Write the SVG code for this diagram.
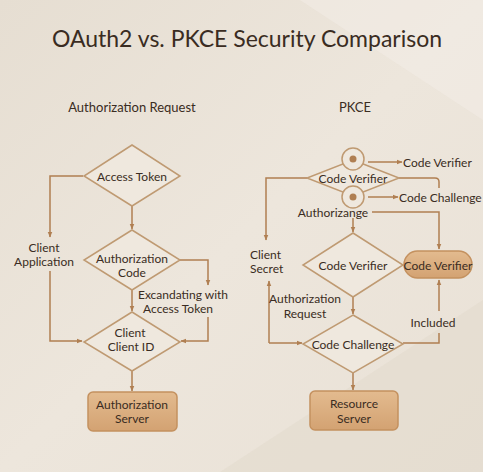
<svg xmlns="http://www.w3.org/2000/svg" width="483" height="472" viewBox="0 0 483 472">
<defs>
<linearGradient id="bg" x1="0" y1="0" x2="1" y2="1">
<stop offset="0" stop-color="#e6ded2"/>
<stop offset="0.5" stop-color="#ede6dc"/>
<stop offset="1" stop-color="#e9e1d6"/>
</linearGradient>
<linearGradient id="box" x1="0" y1="0" x2="0" y2="1">
<stop offset="0" stop-color="#e3bb8f"/>
<stop offset="1" stop-color="#d3a272"/>
</linearGradient>
<marker id="ah" viewBox="0 0 10 10" refX="9" refY="5" markerWidth="6" markerHeight="6" orient="auto-start-reverse" markerUnits="userSpaceOnUse">
<path d="M0,1 L10,5 L0,9 z" fill="#b07f52"/>
</marker>
<style>
.t{font-family:Lato,"Open Sans",sans-serif;fill:#3a2c22;text-anchor:middle;dominant-baseline:central}
.s{font-size:12px}
.h{font-size:13px}
.c{fill:none;stroke:#b07f52;stroke-width:1.5}
.d{fill:#efe8de;stroke:#bf9a72;stroke-width:1.5}
.b{fill:url(#box);stroke:#c4915f;stroke-width:1.5}
</style>
</defs>
<rect width="483" height="472" fill="url(#bg)"/>
<path d="M300,0 L483,0 L483,120 Z" fill="#f3eee7" opacity="0.5"/>
<path d="M220,472 L483,300 L483,472 Z" fill="#e2d9cc" opacity="0.5"/>
<text class="t" x="247" y="38" style="font-size:23px">OAuth2 vs. PKCE Security Comparison</text>
<text class="t h" x="132" y="107">Authorization Request</text>
<text class="t h" x="355" y="107">PKCE</text>

<g id="connectors">
<path class="c" d="M132,206 V229" marker-end="url(#ah)"/>
<path class="c" d="M83,176 H50 V237" marker-end="url(#ah)"/>
<path class="c" d="M50,271 V341 H82" marker-end="url(#ah)"/>
<path class="c" d="M179,260 H208 V285" marker-end="url(#ah)"/>
<path class="c" d="M208,317 V341 H181" marker-end="url(#ah)"/>
<path class="c" d="M132,290 V311" marker-end="url(#ah)"/>
<path class="c" d="M132,371 V391" marker-end="url(#ah)"/>

<path class="c" d="M368,162 H402" marker-end="url(#ah)"/>
<path class="c" d="M368,197 H398" marker-end="url(#ah)"/>
<path class="c" d="M399,178 H435 Q439,178 439,182 V188"/>
<path class="c" d="M307,178 H266 V240" marker-end="url(#ah)"/>
<path class="c" d="M372,212 H439 V249" marker-end="url(#ah)"/>
<path class="c" d="M353,218 V232" marker-end="url(#ah)"/>
<path class="c" d="M403,343 H439 V333"/>
<path class="c" d="M439,311 V280" marker-end="url(#ah)"/>
<path class="c" d="M269,343 V281" marker-end="url(#ah)"/>
<path class="c" d="M269,343 H302" marker-end="url(#ah)"/>
<path class="c" d="M353,297 V314" marker-end="url(#ah)"/>
<path class="c" d="M353,373 V390" marker-end="url(#ah)"/>
</g>

<g id="access-token">
<path class="d" d="M132,145 L180,176 L132,206 L84,176 Z"/>
<text class="t s" x="132" y="176">Access Token</text>
</g>
<g id="client-application">
<text class="t s" x="44" y="247">Client</text>
<text class="t s" x="44" y="261">Application</text>
</g>
<g id="authorization-code">
<path class="d" d="M132,230 L180,260 L132,290 L84,260 Z"/>
<text class="t s" x="132" y="258">Authorization</text>
<text class="t s" x="132" y="272">Code</text>
</g>
<g id="excandating">
<text class="t s" x="183" y="294">Excandating with</text>
<text class="t s" x="178" y="308">Access Token</text>
</g>
<g id="client-id">
<path class="d" d="M132,312 L180,342 L132,371 L84,342 Z"/>
<text class="t s" x="130" y="332">Client</text>
<text class="t s" x="131" y="346">Client ID</text>
</g>
<g id="authorization-server">
<rect class="b" x="88" y="392" width="89" height="39" rx="5"/>
<text class="t s" x="132" y="404">Authorization</text>
<text class="t s" x="132" y="418">Server</text>
</g>

<g id="code-verifier-top">
<path class="d" d="M353,160 L399,178 L353,196 L307,178 Z"/>
<text class="t s" x="353" y="178">Code Verifier</text>
<circle cx="353" cy="159" r="11" fill="#efe8de" stroke="#bf9a72" stroke-width="1.5"/>
<circle cx="353" cy="159" r="3.5" fill="#b07f52"/>
<circle cx="353" cy="197" r="11" fill="#efe8de" stroke="#bf9a72" stroke-width="1.5"/>
<circle cx="353" cy="197" r="3.5" fill="#b07f52"/>
</g>
<g id="code-verifier-label">
<text class="t s" x="403" y="162" style="text-anchor:start">Code Verifier</text>
</g>
<g id="code-challenge-label">
<text class="t s" x="399" y="197" style="text-anchor:start">Code Challenge</text>
</g>
<g id="authorizange">
<text class="t s" x="333" y="212">Authorizange</text>
</g>
<g id="client-secret">
<text class="t s" x="250" y="254" style="text-anchor:start">Client</text>
<text class="t s" x="250" y="268" style="text-anchor:start">Secret</text>
</g>
<g id="code-verifier-mid">
<path class="d" d="M353,233 L403,265 L353,297 L303,265 Z"/>
<text class="t s" x="353" y="265">Code Verifier</text>
</g>
<g id="code-verifier-pill">
<rect class="b" x="404" y="251" width="68" height="27" rx="13.5"/>
<text class="t s" x="438" y="265">Code Verifier</text>
</g>
<g id="authorization-request">
<text class="t s" x="305" y="298">Authorization</text>
<text class="t s" x="305" y="313">Request</text>
</g>
<g id="included">
<text class="t s" x="433" y="322">Included</text>
</g>
<g id="code-challenge">
<path class="d" d="M353,315 L403,344 L353,373 L303,344 Z"/>
<text class="t s" x="353" y="344">Code Challenge</text>
</g>
<g id="resource-server">
<rect class="b" x="310" y="391" width="88" height="39" rx="5"/>
<text class="t s" x="354" y="403">Resource</text>
<text class="t s" x="354" y="418">Server</text>
</g>
</svg>
